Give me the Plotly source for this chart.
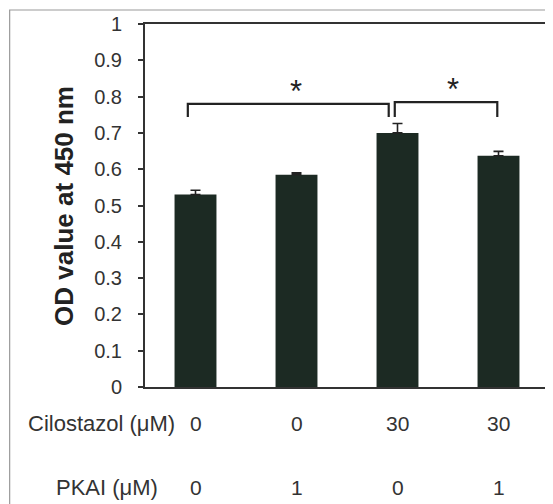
import plotly.graph_objects as go

groups = ["G1", "G2", "G3", "G4"]
od_values = [0.530, 0.585, 0.700, 0.637]
od_errors = [0.012, 0.005, 0.026, 0.012]
cilostazol_um = ["0", "0", "30", "30"]
pkai_um = ["0", "1", "0", "1"]
y_ticks = [0, 0.1, 0.2, 0.3, 0.4, 0.5, 0.6, 0.7, 0.8, 0.9, 1]
y_tick_labels = ["0", "0.1", "0.2", "0.3", "0.4", "0.5", "0.6", "0.7", "0.8", "0.9", "1"]
comparisons = [(0, 2, "*"), (2, 3, "*")]

FONT = "Liberation Sans, Arial, sans-serif"
BAR = "#1c2a23"
xs = list(range(len(groups)))

fig = go.Figure()
fig.add_trace(go.Bar(
    x=xs, y=od_values, width=0.415,
    marker=dict(color=BAR, line=dict(width=0)),
    error_y=dict(type="data", array=od_errors, arrayminus=[0] * len(groups),
                 symmetric=False, color="#222222", thickness=1.6, width=5),
    showlegend=False,
))

# significance brackets
shapes = []
annotations = []
bracket_specs = [(-0.076, 1.913, 0.780, 0.995), (1.973, 2.988, 0.785, 2.55)]
for (a, b, star), (x0, x1, ytop, xstar) in zip(comparisons, bracket_specs):
    ybot = 0.744
    shapes.append(dict(type="path", xref="x", yref="y",
                       path=f"M {x0},{ybot} L {x0},{ytop} L {x1},{ytop} L {x1},{ybot}",
                       line=dict(color="#222222", width=2.2)))
    annotations.append(dict(x=xstar, y=ytop + 0.035, xref="x", yref="y", text=star,
                            showarrow=False, yanchor="middle",
                            font=dict(family=FONT, size=31, color="#222222")))

# outer frame
shapes.append(dict(type="rect", xref="paper", yref="paper",
                   x0=-0.335, x1=1.5, y0=-1.0, y1=1.0386,
                   line=dict(color="#9a9a9a", width=1.2), fillcolor="rgba(0,0,0,0)", layer="below"))

# row labels
row_y = [-0.0993, -0.2755]
annotations.append(dict(x=0.079, y=row_y[0], xref="paper", yref="paper", text="Cilostazol (μM)",
                        showarrow=False, xanchor="right", yanchor="middle",
                        font=dict(family=FONT, size=22, color="#333333")))
annotations.append(dict(x=0.037, y=row_y[1], xref="paper", yref="paper", text="PKAI (μM)",
                        showarrow=False, xanchor="right", yanchor="middle",
                        font=dict(family=FONT, size=22, color="#333333")))
for i in xs:
    annotations.append(dict(x=i, y=row_y[0], xref="x", yref="paper", text=cilostazol_um[i],
                            showarrow=False, yanchor="middle",
                            font=dict(family=FONT, size=21, color="#333333")))
    annotations.append(dict(x=i, y=row_y[1], xref="x", yref="paper", text=pkai_um[i],
                            showarrow=False, yanchor="middle",
                            font=dict(family=FONT, size=21, color="#333333")))

# y title
annotations.append(dict(x=-0.202, y=0.5, xref="paper", yref="paper", text="<b>OD value at 450 nm</b>",
                        textangle=-90, showarrow=False, xanchor="center", yanchor="middle",
                        font=dict(family=FONT, size=26, color="#222222")))

# page has an 8px body margin: shift figure accordingly
fig.update_layout(
    width=545, height=496,
    margin=dict(l=137, r=2, t=16, b=117, pad=0),
    paper_bgcolor="white", plot_bgcolor="white",
    shapes=shapes, annotations=annotations,
    xaxis=dict(range=[-0.5, 3.5], showticklabels=False, ticks="", showgrid=False,
               zeroline=False, showline=True, linecolor="#333333", linewidth=2, mirror=True),
    yaxis=dict(range=[0, 1], tickvals=y_ticks, ticktext=y_tick_labels, ticks="outside",
               ticklen=5, tickwidth=1.5, tickcolor="#333333", showgrid=False, zeroline=False,
               showline=True, linecolor="#333333", linewidth=2, mirror=True,
               ticklabelstandoff=12,
               tickfont=dict(family=FONT, size=20, color="#333333")),
    bargap=0.58,
)

fig.write_html("out.html")
